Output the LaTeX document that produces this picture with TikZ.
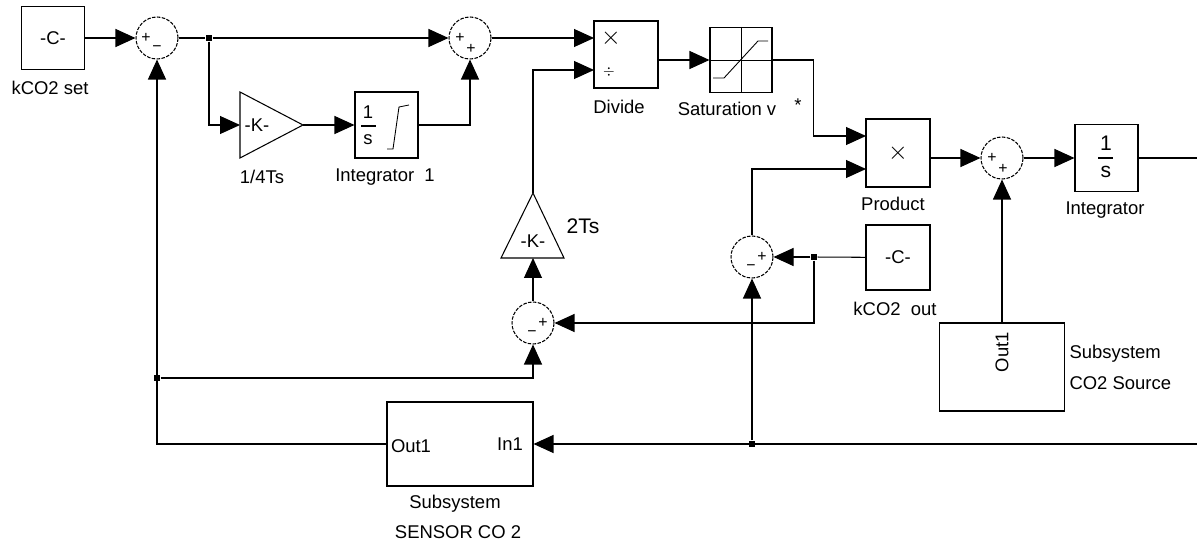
\documentclass[tikz,border=0pt]{standalone}
\usepackage{fontspec}
\setmainfont{Liberation Sans}
\usetikzlibrary{arrows.meta}
\usetikzlibrary{positioning}

\begin{document}
\begin{tikzpicture}
	[x=0.02cm,y=-0.02cm,line width=0.6pt,font=\fontsize{10.5}{12}\selectfont,
	blk/.style={draw,rectangle,inner sep=0pt},
	sumblk/.style={draw,circle,line width=0.6pt,dash pattern=on 2pt off 0.8pt,minimum size=0.84cm,inner sep=0pt},
	sgn/.style={font=\fontsize{9}{9}\selectfont,inner sep=0pt},
	lbl/.style={inner sep=0pt},
	dot/.style={fill,rectangle,minimum size=3.5pt,inner sep=0pt},
	sig/.style={-{Triangle[length=0.4cm,width=0.36cm]}}]
	\useasboundingbox (0,0) rectangle (1197,544);

	% blocks
	\node[blk,minimum width=1.26cm,minimum height=1.26cm] (kset) at (53,38) {-C-};
	\node[lbl] (ksetl) at (50,88) {kCO2 set};
	\node[sumblk] (s1) at (157,38) {};
	\node[sgn] (s1a) at (146,38) {+};
	\node[sgn] (s1b) at (157,49) {−};
	\node[dot] (b1) at (209,38) {};

	\draw (240,92) -- (303,125) -- (240,158) -- cycle;
	\coordinate (g1in) at (240,125);
	\coordinate (g1out) at (303,125);
	\node[lbl] (g1k) at (257,125) {-K-};
	\node[lbl] (g1l) at (262,177) {1/4Ts};

	\node[blk,minimum width=1.26cm,minimum height=1.32cm] (int1) at (386.5,125) {};
	\node[lbl] (int1n) at (368,112) {1};
	\draw (361,126) -- (376,126);
	\node[lbl] (int1d) at (368,140) {s};
	\draw[line width=0.5pt] (387,149) -- (393,149) -- (399,107) -- (409,105);
	\node[lbl] (int1l) at (385,177) {Integrator\ \ 1};

	\node[sumblk] (s2) at (470,38) {};
	\node[sgn] (s2a) at (460,38) {+};
	\node[sgn] (s2b) at (471,49) {+};

	\node[blk,minimum width=1.28cm,minimum height=1.34cm] (div) at (626,54.5) {};
	\coordinate (d1) at (594,38);
	\coordinate (d2) at (594,70);
	\coordinate (dvo) at (658,60);
	\node[lbl] (divx) at (611,38) {\Large$\times$};
	\node[lbl] (divd) at (609,72) {\footnotesize$\div$};
	\node[lbl] (divl) at (619,107) {Divide};

	\node[blk,minimum width=1.24cm,minimum height=1.3cm] (sat) at (741,60) {};
	\draw[line width=0.5pt] (sat.north) -- (sat.south);
	\draw[line width=0.5pt] (sat.west) -- (sat.east);
	\draw[line width=0.5pt] (713,78) -- (724,78) -- (758,41) -- (768,41);
	\node[lbl] (satl) at (727,109) {Saturation v};
	\node[lbl] (satst) at (798,105) {*};

	\node[blk,minimum width=1.28cm,minimum height=1.36cm] (prod) at (898,153) {\Large$\times$};
	\coordinate (p1) at (866,136);
	\coordinate (p2) at (866,169);
	\coordinate (po) at (930,158);
	\node[lbl] (prodl) at (893,204) {Product};

	\node[sumblk] (s3) at (1002,158) {};
	\node[sgn] (s3a) at (992,158) {+};
	\node[sgn] (s3b) at (1003,169) {+};

	\node[blk,minimum width=1.26cm,minimum height=1.34cm] (int) at (1106.5,158) {};
	\node[lbl] (intn) at (1106,143) {\large 1};
	\draw (1098,158) -- (1113,158);
	\node[lbl] (intd) at (1106,172) {\large s};
	\node[lbl] (intl) at (1105,210) {Integrator};
	\coordinate (e1) at (1197,158);

	\node[blk,minimum width=1.28cm,minimum height=1.3cm] (kout) at (898,257.5) {-C-};
	\node[lbl] (koutl) at (895,309) {kCO2\ \ out};
	\node[dot] (b2) at (814,257) {};

	\node[sumblk] (s4) at (752,257) {};
	\node[sgn] (s4a) at (762,257) {+};
	\node[sgn] (s4b) at (751,268) {−};

	\node[sumblk] (s5) at (533,323) {};
	\node[sgn] (s5a) at (543,323) {+};
	\node[sgn] (s5b) at (532,334) {−};

	\draw (533,193) -- (564,258) -- (501,258) -- cycle;
	\coordinate (g2in) at (533,258);
	\coordinate (g2out) at (533,193);
	\node[lbl] (g2k) at (533,241) {-K-};
	\node[lbl] (g2l) at (583,226) {\large 2Ts};

	\node[dot] (b3) at (157,378) {};
	\node[dot] (b4) at (752,444) {};

	\node[blk,minimum width=2.92cm,minimum height=1.68cm] (sens) at (460,444) {};
	\node[lbl] (senso) at (411,446) {Out1};
	\node[lbl] (sensi) at (510,444) {In1};
	\node[lbl] (sensl) at (455,504) {Subsystem};
	\node[lbl] (sensm) at (458,532) {SENSOR CO 2};
	\coordinate (e2) at (1197,444);

	\node[blk,minimum width=2.5cm,minimum height=1.76cm] (src) at (1002,367) {};
	\node[lbl,rotate=90] (srco) at (1002,352) {Out1};
	\node[lbl,anchor=west] (srcl) at (1069,354) {Subsystem};
	\node[lbl,anchor=west] (srcm) at (1069,383) {CO2 Source};

	% signals
	\foreach \from/\to in
	{kset/s1, b1/s2, g1out/int1, s2/d1, dvo/sat, po/s3, s3/int, src/s3, b2/s4, b4/s4, e2/sens, s5/g2in}
	\draw[sig] (\from) -- (\to);
	\foreach \from/\to in {s1/b1, int/e1, kout/b2}
	\draw (\from) -- (\to);
	\draw[sig] (b1) |- (g1in);
	\draw[sig] (int1) -| (s2);
	\draw[sig] (sat.east) -- ++(41,0) |- (p1);
	\draw[sig] (s4) |- (p2);
	\draw[sig] (b2) |- (s5);
	\draw[sig] (sens) -| (s1);
	\draw[sig] (b3) -| (s5);
	\draw[sig] (g2out) |- (d2);
\end{tikzpicture}
\end{document}
